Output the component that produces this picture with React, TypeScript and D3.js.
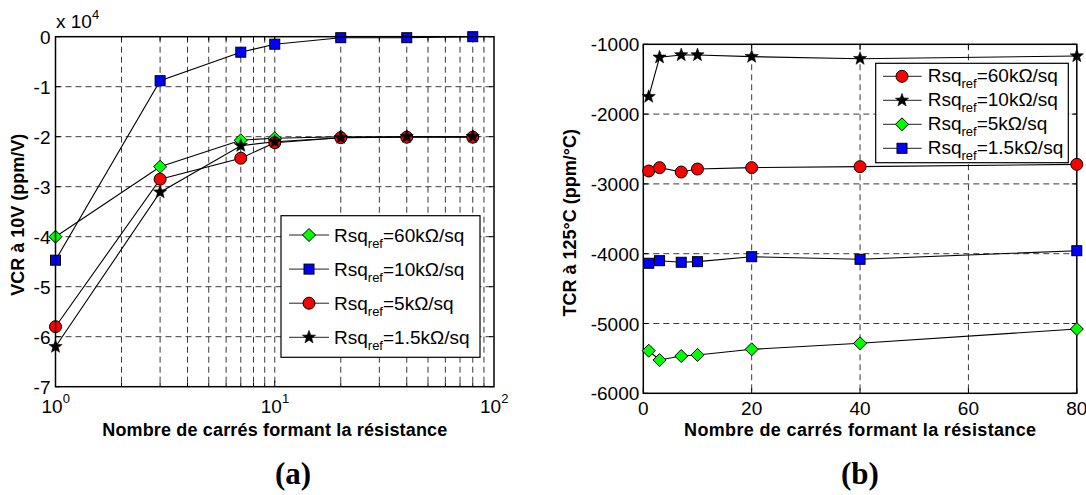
import React from 'react';
import * as d3 from 'd3';

// ---------- DATA ----------
const nSquares = [1, 3, 7, 10, 20, 40, 80];

// (a) VCR à 10V, in units of 1e4 ppm/V
const vcr60k = [-4.0, -2.6, -2.07, -2.03, -2.0, -2.0, -2.0];
const vcr10k = [-4.47, -0.88, -0.31, -0.15, -0.02, -0.02, 0.0];
const vcr5k = [-5.8, -2.85, -2.43, -2.12, -2.02, -2.01, -2.01];
const vcr1p5k = [-6.2, -3.11, -2.18, -2.1, -2.02, -2.0, -2.0];

// (b) TCR à 125°C, ppm/°C
const tcr60k = [-2815, -2767, -2830, -2787, -2767, -2753, -2720];
const tcr10k = [-1750, -1186, -1153, -1153, -1177, -1206, -1168];
const tcr5k = [-5390, -5523, -5466, -5451, -5370, -5284, -5079];
const tcr1p5k = [-4137, -4100, -4123, -4114, -4043, -4080, -3957];

const vcrYTicks = [0, -1, -2, -3, -4, -5, -6, -7];
const vcrXDecades = [0, 1, 2];
const tcrYTicks = [-1000, -2000, -3000, -4000, -5000, -6000];
const tcrXTicks = [0, 20, 40, 60, 80];

type MarkerType = 'circle' | 'square' | 'diamond' | 'star';

const seriesA = [
  { label: '60', values: vcr60k, marker: 'diamond' as MarkerType },
  { label: '10', values: vcr10k, marker: 'square' as MarkerType },
  { label: '5', values: vcr5k, marker: 'circle' as MarkerType },
  { label: '1.5', values: vcr1p5k, marker: 'star' as MarkerType },
];
const seriesB = [
  { label: '60', values: tcr60k, marker: 'circle' as MarkerType },
  { label: '10', values: tcr10k, marker: 'star' as MarkerType },
  { label: '5', values: tcr5k, marker: 'diamond' as MarkerType },
  { label: '1.5', values: tcr1p5k, marker: 'square' as MarkerType },
];

// ---------- STYLE ----------
const FONT = '"Liberation Sans", Arial, Helvetica, sans-serif';
const SERIF = '"Liberation Serif", "Times New Roman", serif';
const GRID = { stroke: '#3a3a3a', strokeWidth: 1, strokeDasharray: '6,4' };

function starPath(cx: number, cy: number, R: number) {
  const r = R * 0.42;
  const pts: string[] = [];
  for (let i = 0; i < 10; i++) {
    const a = -Math.PI / 2 + (i * Math.PI) / 5;
    const rr = i % 2 === 0 ? R : r;
    pts.push(`${cx + rr * Math.cos(a)},${cy + rr * Math.sin(a)}`);
  }
  return 'M' + pts.join('L') + 'Z';
}

function Marker({ type, x, y }: { type: MarkerType; x: number; y: number }) {
  if (type === 'circle')
    return <circle cx={x} cy={y} r={6} fill="#ff0000" stroke="#000" strokeWidth={1} />;
  if (type === 'square')
    return <rect x={x - 5} y={y - 5} width={10} height={10} fill="#0000ff" stroke="#000" strokeWidth={1} />;
  if (type === 'diamond')
    return (
      <path
        d={`M${x},${y - 6.5}L${x + 6.5},${y}L${x},${y + 6.5}L${x - 6.5},${y}Z`}
        fill="#00ff00"
        stroke="#000"
        strokeWidth={1}
      />
    );
  return <path d={starPath(x, y, 7)} fill="#000" stroke="#000" strokeWidth={0.5} />;
}

function LegendText({ x, y, label }: { x: number; y: number; label: string }) {
  return (
    <text x={x} y={y} fontFamily={FONT} fontSize={19} fill="#000">
      Rsq
      <tspan fontSize={13} dy={6}>ref</tspan>
      <tspan dy={-6}>{`=${label}kΩ/sq`}</tspan>
    </text>
  );
}

// ---------- CHART A ----------
function ChartA() {
  const L = 55.5, R = 494, T = 36.7, B = 386.7;
  const x = d3.scaleLog().domain([1, 100]).range([L, R]);
  const y = d3.scaleLinear().domain([-7, 0]).range([B, T]);
  const line = d3
    .line<[number, number]>()
    .x((d) => x(d[0]))
    .y((d) => y(d[1]));

  const minor: number[] = [];
  for (const base of [1, 10]) for (let k = 2; k <= 9; k++) minor.push(base * k);
  const vGrid = [...minor, 10];

  return (
    <g>
      {vGrid.map((v) => (
        <line key={'vg' + v} x1={x(v)} x2={x(v)} y1={T} y2={B} {...GRID} />
      ))}
      {vcrYTicks.slice(1, -1).map((v) => (
        <line key={'hg' + v} x1={L} x2={R} y1={y(v)} y2={y(v)} {...GRID} />
      ))}
      {vcrYTicks.map((v) => (
        <g key={'yt' + v}>
          <line x1={L} x2={L + 5} y1={y(v)} y2={y(v)} stroke="#000" />
          <line x1={R} x2={R - 5} y1={y(v)} y2={y(v)} stroke="#000" />
        </g>
      ))}
      {[...minor, 10].map((v) => (
        <g key={'xt' + v}>
          <line x1={x(v)} x2={x(v)} y1={B} y2={B - (v === 10 ? 6 : 4)} stroke="#000" />
          <line x1={x(v)} x2={x(v)} y1={T} y2={T + (v === 10 ? 6 : 4)} stroke="#000" />
        </g>
      ))}
      {seriesA.map((s) => (
        <path
          key={'l' + s.label}
          d={line(nSquares.map((n, i) => [n, s.values[i]] as [number, number])) || ''}
          fill="none"
          stroke="#000"
          strokeWidth={1.1}
        />
      ))}
      {seriesA.map((s) =>
        nSquares.map((n, i) => (
          <Marker key={'m' + s.label + i} type={s.marker} x={x(n)} y={y(s.values[i])} />
        ))
      )}
      <rect x={L} y={T} width={R - L} height={B - T} fill="none" stroke="#000" strokeWidth={1.5} />
      {vcrYTicks.map((v) => (
        <text key={'yl' + v} x={L - 5} y={y(v) + 7} textAnchor="end" fontFamily={FONT} fontSize={19}>
          {v === 0 ? '0' : String(v)}
        </text>
      ))}
      {vcrXDecades.map((e) => (
        <text key={'xl' + e} x={x(Math.pow(10, e)) - 14} y={413} fontFamily={FONT} fontSize={19}>
          10
          <tspan fontSize={13} dy={-10}>{String(e)}</tspan>
        </text>
      ))}
      <text x={56} y={28} fontFamily={FONT} fontSize={19}>
        x 10
        <tspan fontSize={13} dy={-9}>4</tspan>
      </text>
      <text
        x={(L + R) / 2}
        y={436}
        textAnchor="middle"
        fontFamily={FONT}
        fontWeight="bold"
        fontSize={18}
        textLength={345}
        lengthAdjust="spacing"
      >
        Nombre de carrés formant la résistance
      </text>
      <text
        transform={`translate(23.5, ${(T + B) / 2 + 3}) rotate(-90)`}
        textAnchor="middle"
        fontFamily={FONT}
        fontWeight="bold"
        fontSize={18}
      >
        VCR à 10V (ppm/V)
      </text>
      <rect x={281} y={215.7} width={199} height={141.6} fill="#fff" stroke="#000" strokeWidth={1.2} />
      {seriesA.map((s, i) => {
        const cy = 235 + i * 34.1;
        return (
          <g key={'lg' + s.label}>
            <line x1={289} x2={329} y1={cy} y2={cy} stroke="#222" strokeWidth={1} />
            <Marker type={s.marker} x={309} y={cy} />
            <LegendText x={334} y={cy + 7} label={s.label} />
          </g>
        );
      })}
      <text x={293} y={484} textAnchor="middle" fontFamily={SERIF} fontWeight="bold" fontSize={31}>
        (a)
      </text>
    </g>
  );
}

// ---------- CHART B ----------
function ChartB() {
  const L = 643.3, R = 1076.8, T = 44.3, B = 393.3;
  const x = d3.scaleLinear().domain([0, 80]).range([L, R]);
  const y = d3.scaleLinear().domain([-6000, -1000]).range([B, T]);
  const line = d3
    .line<[number, number]>()
    .x((d) => x(d[0]))
    .y((d) => y(d[1]));

  return (
    <g>
      {tcrXTicks.slice(1, -1).map((v) => (
        <line key={'vg' + v} x1={x(v)} x2={x(v)} y1={T} y2={B} {...GRID} />
      ))}
      {tcrYTicks.slice(1, -1).map((v) => (
        <line key={'hg' + v} x1={L} x2={R} y1={y(v)} y2={y(v)} {...GRID} />
      ))}
      {tcrYTicks.map((v) => (
        <g key={'yt' + v}>
          <line x1={L} x2={L + 5} y1={y(v)} y2={y(v)} stroke="#000" />
          <line x1={R} x2={R - 5} y1={y(v)} y2={y(v)} stroke="#000" />
        </g>
      ))}
      {tcrXTicks.map((v) => (
        <g key={'xt' + v}>
          <line x1={x(v)} x2={x(v)} y1={B} y2={B - 5} stroke="#000" />
          <line x1={x(v)} x2={x(v)} y1={T} y2={T + 5} stroke="#000" />
        </g>
      ))}
      {seriesB.map((s) => (
        <path
          key={'l' + s.label}
          d={line(nSquares.map((n, i) => [n, s.values[i]] as [number, number])) || ''}
          fill="none"
          stroke="#000"
          strokeWidth={1.1}
        />
      ))}
      <rect x={L} y={T} width={R - L} height={B - T} fill="none" stroke="#000" strokeWidth={1.5} />
      {seriesB.map((s) =>
        nSquares.map((n, i) => (
          <Marker key={'m' + s.label + i} type={s.marker} x={x(n)} y={y(s.values[i])} />
        ))
      )}
      {tcrYTicks.map((v) => (
        <text key={'yl' + v} x={L - 4} y={y(v) + 7} textAnchor="end" fontFamily={FONT} fontSize={19}>
          {String(v)}
        </text>
      ))}
      {tcrXTicks.map((v) => (
        <text key={'xl' + v} x={x(v)} y={415} textAnchor="middle" fontFamily={FONT} fontSize={19}>
          {String(v)}
        </text>
      ))}
      <text
        x={(L + R) / 2}
        y={436}
        textAnchor="middle"
        fontFamily={FONT}
        fontWeight="bold"
        fontSize={18}
        textLength={352}
        lengthAdjust="spacing"
      >
        Nombre de carrés formant la résistance
      </text>
      <text
        transform={`translate(576, ${(T + B) / 2 + 4}) rotate(-90)`}
        textAnchor="middle"
        fontFamily={FONT}
        fontWeight="bold"
        fontSize={18}
      >
        TCR à 125°C (ppm/°C)
      </text>
      <rect x={875.7} y={63.3} width={192.6} height={99.4} fill="#fff" stroke="#000" strokeWidth={1.2} />
      {seriesB.map((s, i) => {
        const cy = 76.3 + i * 24;
        return (
          <g key={'lg' + s.label}>
            <line x1={883} x2={921.7} y1={cy} y2={cy} stroke="#222" strokeWidth={1} />
            <Marker type={s.marker} x={902} y={cy} />
            <LegendText x={927.7} y={cy + 6} label={s.label} />
          </g>
        );
      })}
      <text x={860} y={484} textAnchor="middle" fontFamily={SERIF} fontWeight="bold" fontSize={31}>
        (b)
      </text>
    </g>
  );
}

export default function App() {
  return (
    <svg
      width={1086}
      height={495}
      style={{ position: 'absolute', left: 0, top: 0, background: '#fff' }}
      xmlns="http://www.w3.org/2000/svg"
    >
      <rect width={1086} height={495} fill="#fff" />
      <ChartA />
      <ChartB />
    </svg>
  );
}
